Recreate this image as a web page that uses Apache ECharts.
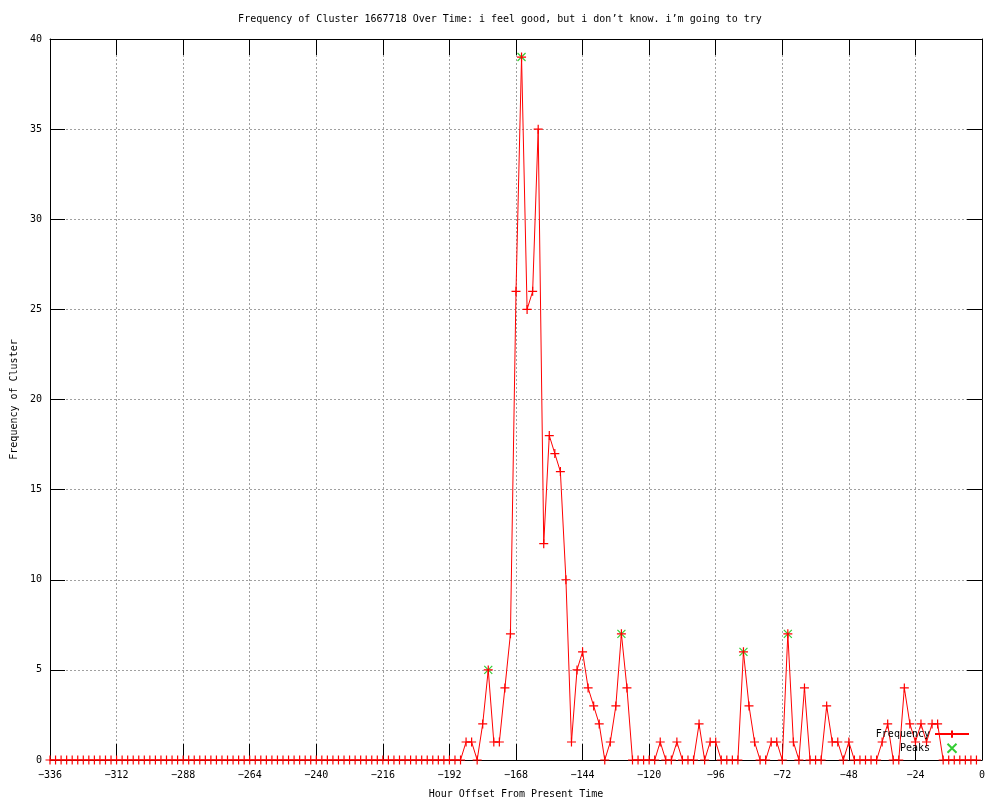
<!DOCTYPE html>
<html>
<head>
<meta charset="utf-8">
<script src="https://cdn.jsdelivr.net/npm/echarts@6/dist/echarts.min.js"></script>
<style>html,body{margin:0;padding:0;background:#fff}#c{width:1000px;height:800px}</style>
</head>
<body>
<div id="c"></div>
<script>
var titleText = "Frequency of Cluster 1667718 Over Time: i feel good, but i don\u2019t know. i\u2019m going to try";
var xName = "Hour Offset From Present Time";
var yName = "Frequency of Cluster";
var startHour = -336;
var stepHours = 2;
// frequency values from -336 to -2, every 2 hours
var freqValues = [
  0,0,0,0,0,0,0,0,0,0, 0,0,0,0,0,0,0,0,0,0,
  0,0,0,0,0,0,0,0,0,0, 0,0,0,0,0,0,0,0,0,0,
  0,0,0,0,0,0,0,0,0,0, 0,0,0,0,0,0,0,0,0,0,
  0,0,0,0,0,0,0,0,0,0, 0,0,0,0,0,
  1,1,0,2,5,1,1,4,7,26,
  39,25,26,35,12,18,17,16,10,1,
  5,6,4,3,2,0,1,3,7,4,
  0,0,0,0,0,1,0,0,1,0,
  0,0,2,0,1,1,0,0,0,0,
  6,3,1,0,0,1,1,0,7,1,
  0,4,0,0,0,3,1,1,0,1,
  0,0,0,0,0,1,2,0,0,4,
  2,1,2,1,2,2,0,0,0,0,
  0,0,0
];
var peakHours = [-178, -166, -130, -86, -70];
var peakValues = [5, 39, 7, 6, 7];

var freqData = freqValues.map(function (v, i) { return [startHour + i * stepHours, v]; });
var peakData = peakHours.map(function (h, i) { return [h, peakValues[i]]; });

var mono = "DejaVu Sans Mono";
var plusPath = "path://M0,5L10,5M5,0L5,10";
var crossPath = "path://M0,0L10,10M10,0L0,10";
function fmt(v) { return String(v).replace('-', '\u2212'); }

var chart = echarts.init(document.getElementById('c'), null, {renderer: 'canvas'});
chart.setOption({
  animation: false,
  backgroundColor: '#fff',
  title: {
    text: titleText, left: 'center', top: 9,
    textStyle: {fontFamily: mono, fontSize: 10, fontWeight: 'normal', color: '#000'}
  },
  legend: {
    data: ['Frequency', 'Peaks'],
    orient: 'vertical', align: 'right', right: 30, top: 728, padding: 0,
    itemWidth: 34, itemHeight: 9, itemGap: 1,
    textStyle: {fontFamily: mono, fontSize: 10, color: '#000'}
  },
  grid: {left: 50, right: 18, top: 39, bottom: 40, containLabel: false, outerBoundsMode: 'none'},
  xAxis: [{
    type: 'value', min: -336, max: 0, interval: 24, position: 'bottom',
    name: xName, nameLocation: 'middle', nameGap: 29,
    nameTextStyle: {fontFamily: mono, fontSize: 10, color: '#000'},
    axisLine: {onZero: false, lineStyle: {color: '#000'}},
    axisTick: {inside: true, length: 16, lineStyle: {color: '#000'}},
    axisLabel: {fontFamily: mono, fontSize: 10, color: '#000', margin: 10, formatter: fmt},
    splitLine: {show: true, lineStyle: {color: '#a0a0a0', type: [2, 2]}}
  }, {
    type: 'value', min: -336, max: 0, interval: 24, position: 'top',
    axisLine: {onZero: false, lineStyle: {color: '#000'}},
    axisTick: {inside: true, length: 16, lineStyle: {color: '#000'}},
    axisLabel: {show: false}, splitLine: {show: false}
  }],
  yAxis: [{
    type: 'value', min: 0, max: 40, interval: 5, position: 'left',
    name: yName, nameLocation: 'middle', nameGap: 30,
    nameTextStyle: {fontFamily: mono, fontSize: 10, color: '#000'},
    axisLine: {show: true, onZero: false, lineStyle: {color: '#000'}},
    axisTick: {show: true, inside: true, length: 15, lineStyle: {color: '#000'}},
    axisLabel: {fontFamily: mono, fontSize: 10, color: '#000', margin: 8},
    splitLine: {show: true, lineStyle: {color: '#a0a0a0', type: [2, 2]}}
  }, {
    type: 'value', min: 0, max: 40, interval: 5, position: 'right',
    axisLine: {show: true, onZero: false, lineStyle: {color: '#000'}},
    axisTick: {show: true, inside: true, length: 15, lineStyle: {color: '#000'}},
    axisLabel: {show: false}, splitLine: {show: false}
  }],
  series: [{
    name: 'Frequency', type: 'line', data: freqData,
    showSymbol: true, showAllSymbol: true,
    symbol: plusPath, symbolSize: 9,
    lineStyle: {color: '#ff0000', width: 1},
    itemStyle: {color: 'none', borderColor: '#ff0000', borderWidth: 1.2},
    emphasis: {disabled: true}, z: 3
  }, {
    name: 'Peaks', type: 'scatter', data: peakData,
    symbol: crossPath, symbolSize: 8,
    itemStyle: {color: 'none', borderColor: '#00c000', borderWidth: 1.2},
    emphasis: {disabled: true}, z: 2
  }]
});
</script>
</body>
</html>
